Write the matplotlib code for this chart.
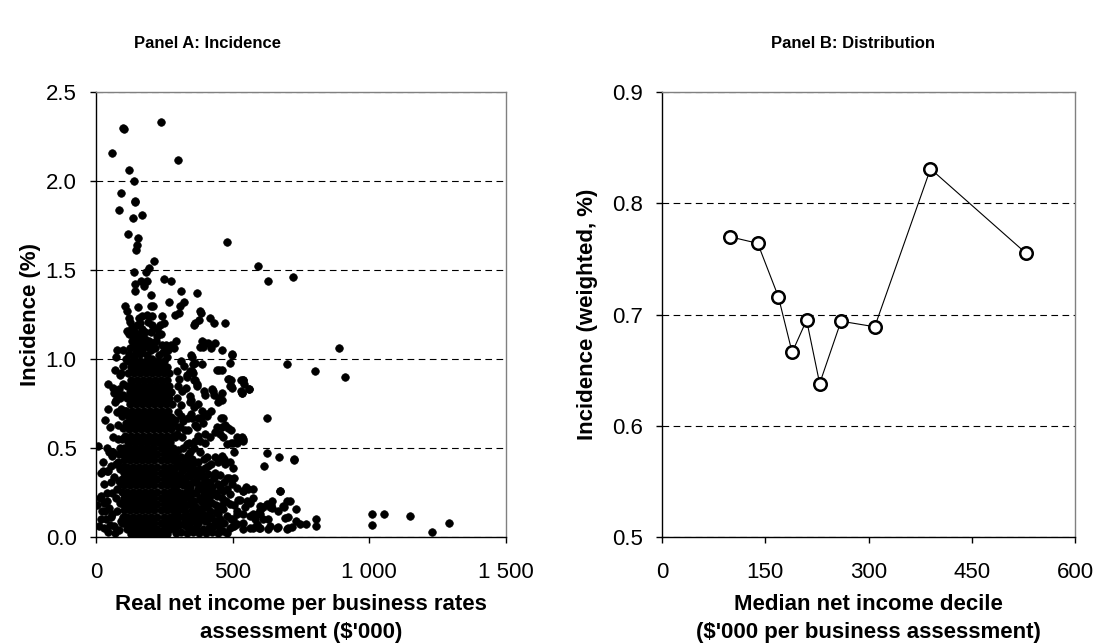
import numpy as np
import matplotlib
matplotlib.use("Agg")
import matplotlib.pyplot as plt

plt.rcParams['font.family'] = ['Liberation Sans', 'DejaVu Sans']

# ---- Panel A: incidence by real net income per assessment ($'000, %) ----
# high outliers
outlier_pts = [
    (238, 2.33), (99, 2.30), (101, 2.29), (60, 2.16), (299, 2.12), (120, 2.06),
    (140, 2.00), (90, 1.93), (141, 1.89), (141, 1.88), (84, 1.84), (134, 1.79),
    (168, 1.81), (118, 1.70), (154, 1.68), (149, 1.64), (146, 1.61), (479, 1.66),
    (211, 1.55), (193, 1.51), (182, 1.49), (138, 1.49), (249, 1.45), (273, 1.44),
    (163, 1.44), (188, 1.44), (176, 1.41), (141, 1.42), (144, 1.38), (312, 1.38),
    (368, 1.37), (201, 1.36), (592, 1.52), (629, 1.44), (721, 1.46),
]
# band 1.0 - 1.35
upper_pts = [
    (322, 1.32), (307, 1.30), (268, 1.32), (105, 1.30), (155, 1.29), (202, 1.30),
    (210, 1.30), (380, 1.27), (115, 1.27), (289, 1.25), (304, 1.26), (169, 1.24),
    (157, 1.23), (188, 1.25), (206, 1.24), (242, 1.24), (121, 1.23), (383, 1.26),
    (364, 1.20), (358, 1.19), (377, 1.22), (417, 1.23), (432, 1.20), (472, 1.20),
    (121, 1.14), (155, 1.14), (145, 1.12), (206, 1.19), (224, 1.17), (249, 1.20),
    (237, 1.14), (224, 1.13), (176, 1.09), (169, 1.08), (139, 1.08), (255, 1.08),
    (273, 1.08), (291, 1.10), (285, 1.06), (200, 1.05), (387, 1.10), (399, 1.09),
    (411, 1.09), (435, 1.09), (380, 1.07), (393, 1.07), (419, 1.06), (462, 1.05),
    (497, 1.03), (78, 1.05), (100, 1.05), (72, 1.01), (499, 1.02), (490, 0.98),
    (350, 1.01), (130, 1.18), (140, 1.16), (160, 1.20), (180, 1.15), (130, 1.10),
    (150, 1.06), (120, 1.03), (185, 1.02), (215, 1.06), (230, 1.02), (245, 1.04),
    (165, 1.12), (195, 1.10), (110, 1.00), (140, 1.01), (160, 1.03), (205, 1.00),
    (260, 1.01), (346, 1.02),
    (125, 1.06), (145, 1.04), (170, 1.05), (190, 1.07), (210, 1.09), (135, 1.13),
    (155, 1.10), (180, 1.11), (200, 1.15), (220, 1.10), (240, 1.08), (115, 1.16),
    (150, 1.19), (170, 1.17), (190, 1.21), (235, 1.19), (125, 1.21), (265, 1.05),
]
# dense core, read row by row: (incidence, [incomes])
core_rows = [
    (0.990, [118, 140, 162, 184, 206, 228, 250]),
    (0.955, [129, 151, 173, 195, 217, 239, 258]),
    (0.920, [116, 138, 160, 182, 204, 226, 248, 268]),
    (0.885, [127, 149, 171, 193, 215, 237, 259]),
    (0.850, [114, 136, 158, 180, 202, 224, 246, 268]),
    (0.815, [125, 147, 169, 191, 213, 235, 257, 276]),
    (0.780, [112, 134, 156, 178, 200, 222, 244, 266]),
    (0.745, [123, 145, 167, 189, 211, 233, 255, 277]),
    (0.710, [110, 132, 154, 176, 198, 220, 242, 264]),
    (0.675, [121, 143, 165, 187, 209, 231, 253, 275]),
    (0.640, [108, 130, 152, 174, 196, 218, 240, 262, 282]),
    (0.605, [119, 141, 163, 185, 207, 229, 251, 273]),
    (0.570, [106, 128, 150, 172, 194, 216, 238, 260, 282]),
    (0.535, [117, 139, 161, 183, 205, 227, 249, 271]),
    (0.500, [104, 126, 148, 170, 192, 214, 236, 258, 280]),
    (0.465, [99, 115, 137, 159, 181, 203, 225, 247, 269, 289]),
    (0.430, [104, 126, 148, 170, 192, 214, 236, 258, 280]),
    (0.395, [97, 115, 137, 159, 181, 203, 225, 247, 269, 289]),
    (0.360, [104, 126, 148, 170, 192, 214, 236, 258, 280]),
    (0.325, [95, 115, 137, 159, 181, 203, 225, 247, 269, 291]),
    (0.290, [104, 126, 148, 170, 192, 214, 236, 258, 280]),
    (0.255, [95, 115, 137, 159, 181, 203, 225, 247, 269, 291]),
    (0.220, [104, 126, 148, 170, 192, 214, 236, 258, 280]),
    (0.185, [97, 115, 137, 159, 181, 203, 225, 247, 269, 291]),
    (0.150, [104, 126, 148, 170, 192, 214, 236, 258, 280]),
    (0.115, [97, 115, 137, 159, 181, 203, 225, 247, 269, 289]),
    (0.080, [104, 126, 148, 170, 192, 214, 236, 258, 280]),
    (0.045, [115, 137, 159, 181, 203, 225, 247, 269]),
    (0.015, [128, 150, 168, 172, 194, 216, 238, 260]),
]
# right of the core, 0.5 - 1.0
right_mid_pts = [
    (356, 0.97), (387, 0.97), (364, 0.98), (441, 0.94), (460, 0.94), (450, 0.94),
    (356, 0.92), (332, 0.90), (344, 0.935), (310, 0.99), (322, 0.96), (297, 0.93),
    (304, 0.89), (334, 0.91), (352, 0.93), (359, 0.88), (371, 0.86), (328, 0.84),
    (316, 0.82), (297, 0.78), (484, 0.89), (490, 0.85), (539, 0.88), (561, 0.83),
    (533, 0.81), (541, 0.86), (362, 0.88), (368, 0.85), (399, 0.80), (429, 0.82),
    (460, 0.81), (448, 0.76), (395, 0.82), (425, 0.83), (432, 0.80), (450, 0.78),
    (462, 0.77), (487, 0.89), (493, 0.85), (529, 0.88), (529, 0.82), (344, 0.79),
    (344, 0.76), (374, 0.75), (346, 0.77), (359, 0.73), (346, 0.69), (383, 0.67),
    (407, 0.69), (419, 0.71), (456, 0.67), (462, 0.62), (338, 0.67), (350, 0.67),
    (374, 0.67), (387, 0.71), (405, 0.68), (362, 0.63), (368, 0.62), (393, 0.64),
    (463, 0.67), (472, 0.63), (484, 0.61), (441, 0.62), (435, 0.59), (454, 0.58),
    (466, 0.56), (515, 0.56), (533, 0.56), (539, 0.54), (503, 0.53), (478, 0.52),
    (399, 0.58), (417, 0.56), (399, 0.53), (380, 0.54), (332, 0.52), (362, 0.54),
    (326, 0.60), (307, 0.62), (289, 0.56), (624, 0.67), (539, 0.55), (517, 0.53),
    (493, 0.53), (300, 0.70), (310, 0.74), (320, 0.65), (300, 0.85), (290, 0.66),
    (295, 0.58), (700, 0.97), (801, 0.93), (911, 0.90), (890, 1.06),
    (300, 0.49), (318, 0.50), (340, 0.53), (315, 0.56), (345, 0.48), (360, 0.50),
    (372, 0.57), (300, 0.62), (312, 0.68), (335, 0.60),
]
# left of the core
left_pts = [
    (33, 0.66), (51, 0.62), (70, 0.76), (88, 0.78), (70, 0.94), (88, 0.91),
    (45, 0.86), (63, 0.84), (76, 0.81), (100, 0.86), (106, 0.71), (94, 0.68),
    (82, 0.63), (100, 0.61), (63, 0.56), (88, 0.50), (8, 0.51), (90, 0.92),
    (84, 0.83), (66, 0.81), (72, 0.77), (95, 0.55), (80, 0.55), (90, 0.72),
    (75, 0.70), (45, 0.72), (100, 0.96), (98, 0.80),
    (48, 0.475), (60, 0.456), (72, 0.41), (84, 0.465), (41, 0.37), (17, 0.36),
    (54, 0.31), (41, 0.25), (17, 0.23), (29, 0.19), (48, 0.165), (78, 0.146),
    (54, 0.11), (90, 0.09), (66, 0.06), (23, 0.146), (72, 0.22), (84, 0.315),
    (27, 0.37), (45, 0.37), (63, 0.475), (15, 0.22), (39, 0.20), (33, 0.146),
    (51, 0.07), (94, 0.08), (30, 0.05), (45, 0.03), (60, 0.13), (85, 0.04),
    (35, 0.10), (75, 0.27), (88, 0.38), (65, 0.34), (30, 0.30), (20, 0.10),
    (55, 0.40), (25, 0.42), (5, 0.18), (10, 0.06), (70, 0.02), (88, 0.19),
    (80, 0.42), (60, 0.25), (92, 0.30), (40, 0.50),
]
# right of the core, below 0.5
right_low_pts = [
    (405, 0.447), (435, 0.447), (460, 0.456), (472, 0.409), (502, 0.39), (435, 0.362),
    (411, 0.353), (380, 0.372), (393, 0.297), (417, 0.278), (368, 0.334), (344, 0.343),
    (320, 0.39), (307, 0.315), (332, 0.259), (356, 0.25), (380, 0.221), (405, 0.203),
    (429, 0.24), (460, 0.221), (478, 0.334), (496, 0.297), (515, 0.278), (539, 0.259),
    (557, 0.268), (551, 0.203), (576, 0.221), (600, 0.175), (624, 0.184), (643, 0.165),
    (667, 0.146), (692, 0.109), (685, 0.175), (710, 0.203), (698, 0.043), (661, 0.053),
    (631, 0.043), (600, 0.053), (582, 0.10), (563, 0.118), (539, 0.128), (515, 0.146),
    (490, 0.184), (466, 0.156), (448, 0.128), (417, 0.146), (393, 0.128), (368, 0.146),
    (344, 0.184), (326, 0.146), (307, 0.165), (295, 0.109), (320, 0.071), (344, 0.053),
    (368, 0.071), (393, 0.043), (417, 0.062), (441, 0.071), (466, 0.034), (490, 0.053),
    (515, 0.071), (539, 0.043), (563, 0.053), (588, 0.071), (612, 0.10), (600, 0.128),
    (673, 0.259), (643, 0.203),
    (300, 0.30), (310, 0.25), (320, 0.21), (330, 0.18), (340, 0.12), (350, 0.09),
    (360, 0.20), (375, 0.27), (390, 0.17), (400, 0.32), (410, 0.10), (425, 0.19),
    (435, 0.09), (445, 0.30), (455, 0.04), (465, 0.26), (480, 0.12), (490, 0.24),
    (505, 0.06), (520, 0.21), (300, 0.40), (310, 0.45), (325, 0.44), (340, 0.41),
    (360, 0.42), (380, 0.48), (300, 0.12), (305, 0.07), (320, 0.29), (335, 0.35),
    (355, 0.31), (385, 0.36), (420, 0.41), (445, 0.42), (395, 0.24), (415, 0.22),
    (430, 0.33), (350, 0.15), (370, 0.04), (380, 0.10), (300, 0.22), (290, 0.45),
    (295, 0.35), (285, 0.27), (290, 0.05), (288, 0.16),
    (292, 0.02), (312, 0.03), (332, 0.02), (355, 0.03), (378, 0.02), (402, 0.02),
    (425, 0.03), (445, 0.02), (478, 0.02), (298, 0.09), (318, 0.11), (330, 0.10),
    (358, 0.11), (372, 0.12), (398, 0.09), (422, 0.11), (455, 0.10), (470, 0.08),
    (495, 0.10), (296, 0.19), (312, 0.20), (340, 0.22), (365, 0.17), (385, 0.20),
    (405, 0.17), (440, 0.18), (452, 0.16), (475, 0.20), (505, 0.18), (298, 0.26),
    (325, 0.24), (345, 0.28), (366, 0.25), (388, 0.27), (408, 0.26), (438, 0.25),
    (452, 0.28), (480, 0.27), (305, 0.35), (318, 0.33), (348, 0.37), (362, 0.36),
    (392, 0.34), (418, 0.31), (455, 0.35), (470, 0.31), (488, 0.33), (298, 0.42),
    (318, 0.41), (338, 0.46), (352, 0.44), (372, 0.42), (395, 0.44), (410, 0.40),
    (470, 0.44), (490, 0.42),
    (283, 0.06), (285, 0.12), (283, 0.20), (286, 0.31), (287, 0.38), (300, 0.15),
    (310, 0.16), (322, 0.17), (328, 0.06), (338, 0.07), (346, 0.24), (352, 0.19),
    (362, 0.05), (375, 0.08), (384, 0.14), (396, 0.21), (400, 0.12), (412, 0.05),
    (430, 0.06), (438, 0.14), (444, 0.23), (460, 0.08), (462, 0.18), (315, 0.37),
    (328, 0.31), (340, 0.29), (372, 0.30), (376, 0.38), (404, 0.28), (330, 0.39),
    (356, 0.39), (398, 0.39), (425, 0.28),
]
# sparse tail
far_pts = [
    (627, 0.47), (668, 0.45), (724, 0.44), (724, 0.43), (616, 0.40), (505, 0.33),
    (549, 0.28), (539, 0.26), (576, 0.27), (672, 0.26), (527, 0.21), (563, 0.19),
    (545, 0.17), (698, 0.20), (689, 0.17), (639, 0.18), (637, 0.17), (612, 0.17),
    (600, 0.15), (732, 0.16), (576, 0.13), (588, 0.13), (515, 0.13), (500, 0.10),
    (704, 0.11), (731, 0.09), (746, 0.075), (768, 0.075), (805, 0.10), (805, 0.06),
    (630, 0.10), (637, 0.06), (667, 0.056), (704, 0.05), (716, 0.056), (539, 0.08),
    (576, 0.05), (598, 0.05), (502, 0.06), (1008, 0.13), (1008, 0.07), (1055, 0.13),
    (1150, 0.12), (1230, 0.03), (1293, 0.08), (506, 0.48), (493, 0.60), (494, 0.88),
    (499, 0.84), (535, 0.81), (561, 0.83), (538, 0.88),
]

a_xticks = [0, 500, 1000, 1500]
a_xticklabels = ["0", "500", "1 000", "1 500"]
a_yticks = [0.0, 0.5, 1.0, 1.5, 2.0, 2.5]

# ---- Panel B: weighted incidence by median net income decile ----
decile_income = [98, 139, 169, 189, 210, 229, 260, 309, 390, 529]
decile_incidence = [0.770, 0.764, 0.716, 0.666, 0.695, 0.638, 0.694, 0.689, 0.831, 0.755]
b_xticks = [0, 150, 300, 450, 600]
b_yticks = [0.5, 0.6, 0.7, 0.8, 0.9]

pts = outlier_pts + upper_pts + right_mid_pts + left_pts + right_low_pts + far_pts
for yv, xs in core_rows:
    pts += [(xv, yv) for xv in xs]
inc_x = [p[0] for p in pts]
inc_y = [p[1] for p in pts]

fig = plt.figure(figsize=(11.06, 6.44), dpi=100)
axA = fig.add_axes([0.0868, 0.1661, 0.3707, 0.6910])
axB = fig.add_axes([0.5986, 0.1661, 0.3734, 0.6910])


def style(ax):
    ax.set_axisbelow(True)
    ax.yaxis.grid(True, linestyle=(0, (6, 4)), color="black", linewidth=0.8)
    for s in ["top", "right"]:
        ax.spines[s].set_color("#808080")
        ax.spines[s].set_linewidth(1.0)
    for s in ["left", "bottom"]:
        ax.spines[s].set_color("black")
        ax.spines[s].set_linewidth(1.0)
    ax.tick_params(direction="out", length=4, width=1, labelsize=16, pad=10)
    ax.tick_params(axis="x", pad=14)


axA.scatter(inc_x, inc_y, s=30, color="black", edgecolors="black",
            linewidths=0.5, zorder=3)
axA.set_xlim(0, 1500)
axA.set_ylim(0, 2.5)
axA.set_xticks(a_xticks)
axA.set_xticklabels(a_xticklabels)
axA.set_yticks(a_yticks)
axA.set_yticklabels([f"{v:.1f}" for v in a_yticks])
style(axA)
axA.set_xlabel("Real net income per business rates\nassessment (\\$'000)",
               fontsize=16, fontweight="bold", labelpad=8, linespacing=1.4)
axA.set_ylabel("Incidence (%)", fontsize=16, fontweight="bold", labelpad=3)

axB.plot(decile_income, decile_incidence, color="black", linewidth=0.8,
         marker="o", markersize=9, markerfacecolor="white",
         markeredgecolor="black", markeredgewidth=1.8, zorder=3)
axB.set_xlim(0, 600)
axB.set_ylim(0.5, 0.9)
axB.set_xticks(b_xticks)
axB.set_yticks(b_yticks)
axB.set_yticklabels([f"{v:.1f}" for v in b_yticks])
style(axB)
axB.set_xlabel("Median net income decile\n(\\$'000 per business assessment)",
               fontsize=16, fontweight="bold", labelpad=8, linespacing=1.4)
axB.set_ylabel("Incidence (weighted, %)", fontsize=16, fontweight="bold", labelpad=10)

fig.text(0.188, 0.932, "Panel A: Incidence", ha="center", va="center",
         fontsize=12, fontweight="bold")
fig.text(0.771, 0.932, "Panel B: Distribution", ha="center", va="center",
         fontsize=12, fontweight="bold")

fig.savefig("out.png", dpi=100)
